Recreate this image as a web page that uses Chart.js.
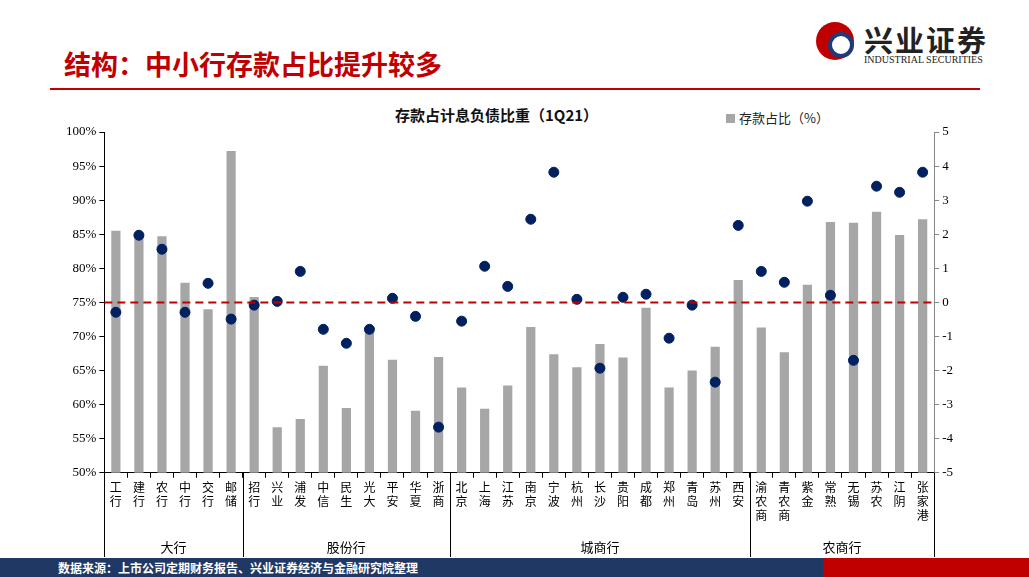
<!DOCTYPE html>
<html><head><meta charset="utf-8">
<script src="https://cdn.jsdelivr.net/npm/chart.js@4"></script>
<style>
body{margin:0;width:1029px;height:577px;overflow:hidden;background:#fff;font-family:"Noto Sans CJK SC",sans-serif;position:relative}
#title{position:absolute;left:64px;top:44px;font-size:27px;font-weight:bold;color:#c00000}
#rule{position:absolute;left:50px;top:88px;width:930px;height:2px;background:#c00000}
#logo{position:absolute;left:812px;top:18px;width:200px;height:50px}
#logo .t{position:absolute;left:52px;top:0;font-size:29px;font-weight:bold;color:#222;letter-spacing:2px}
#logo .s{position:absolute;left:52px;top:36px;font-size:10px;font-family:"Liberation Serif";color:#222}
#logo .c{position:absolute;left:4px;top:4px;width:38px;height:38px;border-radius:50%;background:#c00000}
#logo .c2{position:absolute;left:16px;top:14px;width:18px;height:18px;border-radius:50%;background:#fff;border:4px solid #1f3a7a}
#ctitle{position:absolute;left:395px;top:104px;font-size:15px;font-weight:bold;color:#111}
#leg{position:absolute;left:726px;top:108px;font-size:13px;color:#222}
#leg i{display:inline-block;width:9px;height:9px;background:#a6a6a6;margin-right:4px}
#foot{position:absolute;left:0;top:558px;width:1029px;height:19px;background:linear-gradient(90deg,#1f3864 0,#1f3864 80%,#c00000 80%);color:#fff;font-size:12px;font-weight:bold;line-height:19px}
#foot span{margin-left:58px}
canvas{position:absolute;left:0;top:0}
</style></head><body>
<div id="title">结构：中小行存款占比提升较多</div>
<div id="rule"></div>
<div id="logo"><div class="c"></div><div class="c2"></div><div class="t">兴业证券</div><div class="s">INDUSTRIAL SECURITIES</div></div>
<div id="ctitle">存款占计息负债比重（1Q21）</div>
<div id="leg"><i></i>存款占比（%）</div>
<div id="foot"><span>数据来源：上市公司定期财务报告、兴业证券经济与金融研究院整理</span></div>
<canvas id="c" width="1029" height="577"></canvas>
<script>
// categories
const banks = ["工行","建行","农行","中行","交行","邮储","招行","兴业","浦发","中信","民生","光大","平安","华夏","浙商",
  "北京","上海","江苏","南京","宁波","杭州","长沙","贵阳","成都","郑州","青岛","苏州","西安",
  "渝农商","青农商","紫金","常熟","无锡","苏农","江阴","张家港"];
// group names and how many banks each spans
const groups = ["大行","股份行","城商行","农商行"];
const groupSizes = [6, 9, 13, 8];
// deposit share, %
const depositShare = [85.5,84.8,84.7,77.9,74.0,97.2,75.8,56.7,57.9,65.7,59.5,71.2,66.6,59.1,67.0,
  62.5,59.4,62.8,71.4,67.4,65.5,68.9,66.9,74.2,62.5,65.0,68.5,78.3,
  71.3,67.7,77.6,86.8,86.7,88.3,84.9,87.2];
// dots on right axis
const dotValues = [-0.29,1.97,1.56,-0.29,0.56,-0.49,-0.08,0.03,0.91,-0.79,-1.2,-0.79,0.12,-0.41,-3.66,
  -0.55,1.06,0.47,2.44,3.82,0.09,-1.93,0.15,0.24,-1.05,-0.08,-2.34,2.26,
  0.91,0.59,2.97,0.21,-1.7,3.41,3.23,3.82];

const decor = {
  id: "decor",
  afterDatasetsDraw(chart) {
    const ctx = chart.ctx, a = chart.chartArea, y2 = chart.scales.y2;
    // red dashed zero line
    const yz = y2.getPixelForValue(0);
    ctx.save();
    ctx.strokeStyle = "#c00000"; ctx.lineWidth = 2; ctx.setLineDash([8, 5]);
    ctx.beginPath(); ctx.moveTo(a.left, yz); ctx.lineTo(a.right, yz); ctx.stroke();
    ctx.restore();
  },
  afterDraw(chart) {
    const ctx = chart.ctx, a = chart.chartArea, x = chart.scales.x;
    const half = (x.getPixelForValue(1) - x.getPixelForValue(0)) / 2;
    ctx.save();
    ctx.strokeStyle = "#000"; ctx.lineWidth = 1;
    ctx.font = "13px 'Noto Sans CJK SC'"; ctx.fillStyle = "#000"; ctx.textAlign = "center";
    let i = 0;
    const edges = [x.getPixelForValue(0) - half];
    groups.forEach((g, k) => {
      const s = x.getPixelForValue(i) - half;
      i += groupSizes[k];
      const e = x.getPixelForValue(i - 1) + half;
      edges.push(e);
      ctx.fillText(g, (s + e) / 2, 552);
    });
    edges.forEach(ex => { ctx.beginPath(); ctx.moveTo(Math.round(ex) + 0.5, a.bottom); ctx.lineTo(Math.round(ex) + 0.5, 557); ctx.stroke(); });
    ctx.restore();
  }
};

new Chart(document.getElementById("c"), {
  data: {
    labels: banks.map(b => b.split("")),
    datasets: [
      { type: "scatter", data: dotValues.map((v, i) => ({ x: i, y: v })), yAxisID: "y2", xAxisID: "x",
        backgroundColor: "#002060", borderColor: "#002060", pointRadius: 5, order: 0 },
      { type: "bar", data: depositShare, yAxisID: "y", backgroundColor: "#a6a6a6",
        barPercentage: 0.4, categoryPercentage: 1, order: 1 }
    ]
  },
  options: {
    responsive: false, animation: false,
    layout: { padding: { left: 63, right: 73, top: 132, bottom: 52 } },
    plugins: { legend: { display: false }, tooltip: { enabled: false } },
    scales: {
      x: { type: "category", offset: true,
        grid: { drawOnChartArea: false, offset: true, color: "#000", tickLength: 5 },
        border: { color: "#000" },
        ticks: { color: "#000", font: { size: 12, family: "'Noto Sans CJK SC'" }, maxRotation: 0, autoSkip: false, padding: 2 } },
      y: { min: 50, max: 100, position: "left",
        grid: { drawOnChartArea: false, color: "#000", tickLength: 5 }, border: { color: "#000" },
        ticks: { stepSize: 5, color: "#000", font: { size: 13, family: "'Liberation Serif'" }, callback: v => v + "%" } },
      y2: { min: -5, max: 5, position: "right",
        grid: { drawOnChartArea: false, color: "#888", tickLength: 5 }, border: { color: "#888" },
        ticks: { stepSize: 1, color: "#000", font: { size: 13, family: "'Liberation Serif'" } } }
    }
  },
  plugins: [decor]
});
</script>
</body></html>
